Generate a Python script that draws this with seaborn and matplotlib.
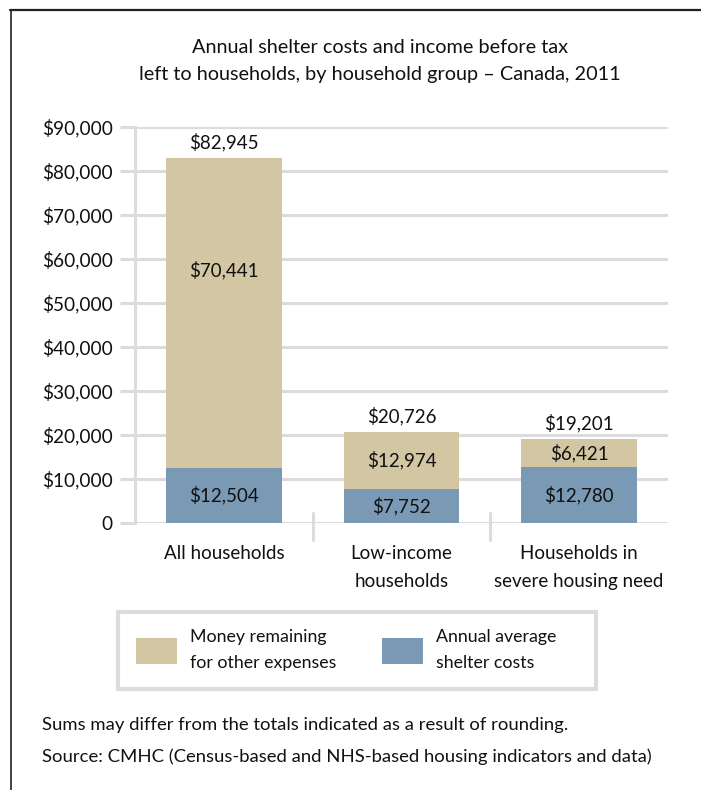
import matplotlib
matplotlib.use("Agg")
import matplotlib.pyplot as plt
from matplotlib.patches import Patch, Rectangle
from matplotlib.lines import Line2D
import seaborn as sns
import pandas as pd

# Household groups and their annual amounts (CAD)
groups = ["All households", "Low-income\nhouseholds", "Households in\nsevere housing need"]
shelter_costs = [12504, 7752, 12780]
money_remaining = [70441, 12974, 6421]
totals = [82945, 20726, 19201]
y_ticks = [0, 10000, 20000, 30000, 40000, 50000, 60000, 70000, 80000, 90000]
y_tick_labels = ["0", "$10,000", "$20,000", "$30,000", "$40,000", "$50,000",
                 "$60,000", "$70,000", "$80,000", "$90,000"]

TAN = "#D3C6A2"
BLUE = "#7A99B4"
GRID = "#DCDCDC"
INK = "#111111"
FS = 13.5

sns.set_theme(style="white")
plt.rcParams["font.family"] = ["Lato", "DejaVu Sans"]

df = pd.DataFrame({
    "group": groups,
    "shelter": shelter_costs,
    "remaining": money_remaining,
})
df["stack_top"] = df["shelter"] + df["remaining"]

W, H = 701, 790
fig = plt.figure(figsize=(W / 100, H / 100), dpi=100)
ax = fig.add_axes([135 / W, 1 - 523 / H, (668 - 135) / W, (523 - 127) / H])

# Stacked bars: full stack in tan, shelter costs in blue over the base
sns.barplot(data=df, x="group", y="stack_top", color=TAN, width=0.65,
            saturation=1, linewidth=0, edgecolor="none", ax=ax, zorder=3)
sns.barplot(data=df, x="group", y="shelter", color=BLUE, width=0.65,
            saturation=1, linewidth=0, edgecolor="none", ax=ax, zorder=3)

ax.set_xlim(-0.5, 2.5)
ax.set_ylim(0, 90000)
ax.set_xlabel("")
ax.set_ylabel("")

# Horizontal gridlines with short stubs to the left of the axis
ax.set_yticks(y_ticks)
ax.set_yticklabels(y_tick_labels, fontsize=13.7, color=INK)
ax.yaxis.grid(True, color=GRID, linewidth=2.2, zorder=0)
ax.set_axisbelow(True)
ax.tick_params(axis="y", which="major", length=11, width=2.2, color=GRID,
               pad=5, left=True)

# Category labels
ax.set_xticks([0, 1, 2])
ax.set_xticklabels(groups, fontsize=FS, color=INK, linespacing=1.75, va="top")
ax.tick_params(axis="x", which="major", length=0, pad=16)

# Separator marks between groups
for xs in [0.5, 1.5]:
    ax.plot([xs, xs], [-17 / 396, 10 / 396], color=GRID, linewidth=2.2,
            transform=ax.get_xaxis_transform(), clip_on=False, zorder=1)

for side in ["top", "right", "bottom"]:
    ax.spines[side].set_visible(False)
ax.spines["left"].set_color(GRID)
ax.spines["left"].set_linewidth(2.2)

# Value labels
remaining_label_y = [57500, None, None]
for i, (s, r, t) in enumerate(zip(shelter_costs, money_remaining, totals)):
    ax.text(i, s / 2, f"${s:,}", ha="center", va="center", fontsize=FS, color=INK, zorder=5)
    ry = remaining_label_y[i] if remaining_label_y[i] is not None else s + r / 2
    ax.text(i, ry, f"${r:,}", ha="center", va="center", fontsize=FS, color=INK, zorder=5)
    ax.text(i, s + r + 1500, f"${t:,}", ha="center", va="bottom", fontsize=FS, color=INK, zorder=5)

# Title
fig.text(380 / W, 1 - 61 / H,
         "Annual shelter costs and income before tax\nleft to households, by household group \u2013 Canada, 2011",
         ha="center", va="center", fontsize=14.3, color=INK, linespacing=1.78)

# Legend with its own light frame
fig.add_artist(Rectangle((118 / W, 1 - 689 / H), 478 / W, 77 / H, fill=False,
                         edgecolor=GRID, linewidth=3, transform=fig.transFigure))
handles = [Patch(facecolor=TAN, edgecolor="none"), Patch(facecolor=BLUE, edgecolor="none")]
labels = ["Money remaining\nfor other expenses", "Annual average\nshelter costs"]
leg = fig.legend(handles, labels, loc="upper left",
                 bbox_to_anchor=(136 / W, 1 - 629 / H),
                 ncol=2, fontsize=12.8, frameon=False,
                 handlelength=2.3, handleheight=1.8,
                 handletextpad=0.75, columnspacing=2.55, borderpad=0, borderaxespad=0)
for txt in leg.get_texts():
    txt.set_color(INK)
    txt.set_linespacing(1.8)

# Footnotes
fig.text(42 / W, 1 - 725 / H, "Sums may differ from the totals indicated as a result of rounding.",
         ha="left", va="center", fontsize=13.3, color=INK)
fig.text(42 / W, 1 - 757 / H, "Source: CMHC (Census-based and NHS-based housing indicators and data)",
         ha="left", va="center", fontsize=13.3, color=INK)

# Outer frame: top and left rules
fig.add_artist(Line2D([10 / W, 1], [1 - 10 / H, 1 - 10 / H], color="#222222", linewidth=1.6,
                      transform=fig.transFigure))
fig.add_artist(Line2D([11 / W, 11 / W], [0, 1 - 10 / H], color="#222222", linewidth=1.2,
                      transform=fig.transFigure))

fig.savefig("out.png", dpi=100)
